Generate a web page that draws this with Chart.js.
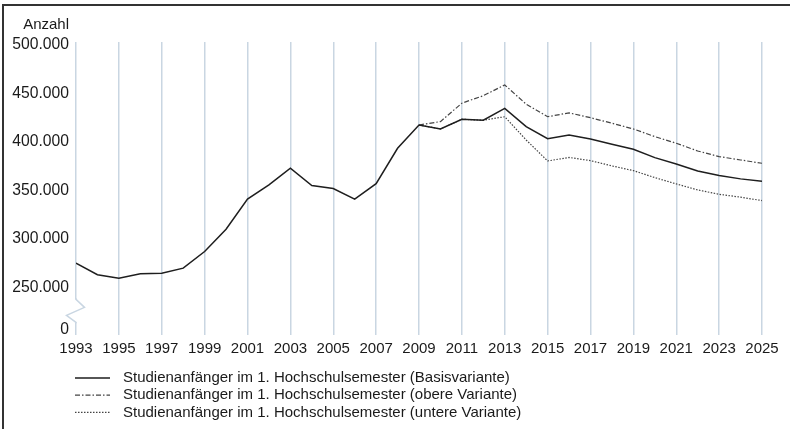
<!DOCTYPE html>
<html>
<head>
<meta charset="utf-8">
<script src="https://cdn.jsdelivr.net/npm/chart.js@4.4.0/dist/chart.umd.min.js"></script>
<style>
  html, body { margin: 0; padding: 0; background: #fff; }
  canvas { display: block; }
</style>
</head>
<body>
<canvas id="myChart" width="790" height="429"></canvas>
<script>
// Studienanfänger im 1. Hochschulsemester, Ist-Werte bis 2013 + Vorausberechnung
var years = [1993, 1994, 1995, 1996, 1997, 1998, 1999, 2000, 2001, 2002, 2003,
  2004, 2005, 2006, 2007, 2008, 2009, 2010, 2011, 2012, 2013, 2014, 2015, 2016,
  2017, 2018, 2019, 2020, 2021, 2022, 2023, 2024, 2025];

var basis = [275000, 263000, 259500, 264000, 264600, 269800, 287000, 310000,
  341000, 355700, 373000, 355000, 352000, 341000, 357000, 393500,
  417500, 413400, 423400, 422400, 434700, 415800, 403400, 407200, 403000,
  397600, 392500, 383800, 377300, 370000, 365300, 361900, 359500];

var obere = [null, null, null, null, null, null, null, null,
  null, null, null, null, null, null, null, null,
  417500, 421000, 440000, 447700, 458800, 439000, 426000, 430000, 425000,
  419300, 413400, 405500, 398700, 390700, 384900, 381400, 378000];

var untere = [null, null, null, null, null, null, null, null,
  null, null, null, null, null, null, null, null,
  417500, 413400, 423400, 422400, 426000, 402000, 380400, 384000, 380700,
  375300, 370400, 363200, 356700, 350500, 346000, 343000, 339500];

var seriesLabels = [
  'Studienanfänger im 1. Hochschulsemester (Basisvariante)',
  'Studienanfänger im 1. Hochschulsemester (obere Variante)',
  'Studienanfänger im 1. Hochschulsemester (untere Variante)'
];

var yTickValues = [250000, 300000, 350000, 400000, 450000, 500000];
var zeroLabel = '0';

// axis is broken: the bottom of the plot stands for 0
var yMin = 206000;
var yMax = 503100;

var gridColor = '#c9d6e2';
var textColor = '#1a1a1a';

Chart.defaults.font.family = "'Liberation Sans', Arial, sans-serif";
Chart.defaults.font.size = 15;
Chart.defaults.color = textColor;

function pairs(values) {
  return years.map(function (y, i) { return { x: y, y: values[i] }; });
}

var decorations = {
  id: 'decorations',
  afterDraw: function (chart) {
    var ctx = chart.ctx;
    var area = chart.chartArea;
    var xs = chart.scales.x;
    var ys = chart.scales.y;
    ctx.save();

    // axis break on the first grid line
    var x0 = xs.getPixelForValue(years[0]);
    var yb = ys.getPixelForValue(yTickValues[0]);
    ctx.fillStyle = '#fff';
    ctx.fillRect(x0 - 3, yb + 12, 6, 23);
    ctx.strokeStyle = gridColor;
    ctx.lineWidth = 1.5;
    ctx.beginPath();
    ctx.moveTo(x0, yb + 11);
    ctx.lineTo(x0, yb + 12);
    ctx.lineTo(x0 + 8.5, yb + 20);
    ctx.lineTo(x0 - 9.5, yb + 28);
    ctx.lineTo(x0, yb + 35);
    ctx.lineTo(x0, yb + 36);
    ctx.stroke();

    // axis title
    ctx.fillStyle = textColor;
    ctx.font = "15px 'Liberation Sans', Arial, sans-serif";
    ctx.textAlign = 'right';
    ctx.textBaseline = 'middle';
    ctx.fillText('Anzahl', area.left - 7, 25);

    // legend
    ctx.textAlign = 'left';
    chart.data.datasets.forEach(function (ds, i) {
      var y = 378 + i * 17.2;
      ctx.strokeStyle = ds.borderColor;
      ctx.lineWidth = ds.borderWidth;
      ctx.setLineDash(ds.borderDash || []);
      ctx.beginPath();
      ctx.moveTo(75, y);
      ctx.lineTo(110, y);
      ctx.stroke();
      ctx.setLineDash([]);
      ctx.fillStyle = textColor;
      ctx.fillText(ds.label, 123, y);
    });

    // frame (top and left)
    ctx.strokeStyle = '#333';
    ctx.lineWidth = 2;
    ctx.beginPath();
    ctx.moveTo(3, chart.height);
    ctx.lineTo(3, 5);
    ctx.lineTo(chart.width, 5);
    ctx.stroke();
    ctx.restore();
  }
};

var ctx = document.getElementById('myChart');
var chart = new Chart(ctx, {
  type: 'line',
  data: {
    datasets: [{
      label: seriesLabels[0],
      data: pairs(basis),
      borderColor: '#1e1e1e',
      borderWidth: 1.5
    }, {
      label: seriesLabels[1],
      data: pairs(obere),
      borderColor: '#444',
      borderWidth: 1.2,
      borderDash: [5, 2, 1.5, 2]
    }, {
      label: seriesLabels[2],
      data: pairs(untere),
      borderColor: '#444',
      borderWidth: 1.2,
      borderDash: [1.5, 1.5]
    }]
  },
  options: {
    responsive: false,
    animation: false,
    layout: { padding: { left: 0, top: 42, right: 28, bottom: 69 } },
    elements: {
      point: { radius: 0 },
      line: { tension: 0, fill: false }
    },
    plugins: {
      legend: { display: false },
      tooltip: { enabled: false }
    },
    scales: {
      x: {
        type: 'linear',
        min: years[0],
        max: years[years.length - 1],
        afterFit: function (scale) { scale.height = 30; },
        ticks: {
          stepSize: 2,
          padding: 5,
          maxRotation: 0,
          autoSkip: false,
          color: textColor,
          callback: function (v) { return String(v); }
        },
        grid: {
          color: gridColor,
          lineWidth: 1.5,
          drawTicks: true,
          tickLength: 5,
          tickColor: gridColor
        },
        border: { display: false }
      },
      y: {
        min: yMin,
        max: yMax,
        afterFit: function (scale) { scale.width = 76; },
        afterBuildTicks: function (scale) {
          scale.ticks = [{ value: yMin }].concat(yTickValues.map(function (v) { return { value: v }; }));
        },
        ticks: {
          padding: 7,
          color: textColor,
          font: { size: 15.7 },
          callback: function (v) {
            return v === yMin ? zeroLabel : v.toLocaleString('de-DE');
          }
        },
        grid: { display: false, drawTicks: false },
        border: { display: false }
      }
    }
  },
  plugins: [decorations]
});
</script>
</body>
</html>
